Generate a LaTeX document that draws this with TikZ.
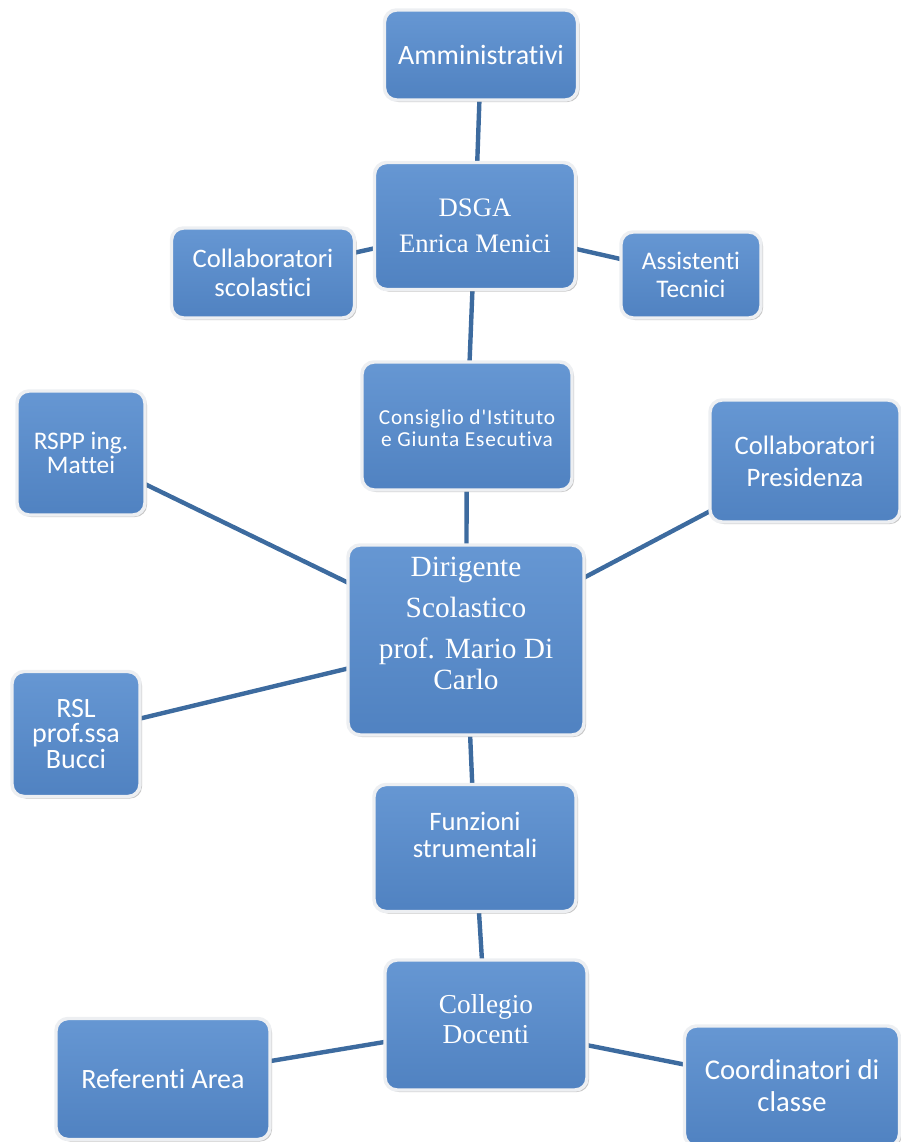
\documentclass[tikz,border=0pt]{standalone}
\usepackage{fontspec}
\setmainfont{Liberation Serif}
\newfontfamily\calfont{Carlito}[Ligatures=NoCommon]
\usetikzlibrary{shadows,backgrounds}
\definecolor{boxtop}{HTML}{6697D3}
\definecolor{boxbot}{HTML}{5082C1}
\definecolor{linkc}{HTML}{3D6B9F}
\definecolor{rimc}{HTML}{EDEFF2}
\newcommand\calr[2]{\calfont\fontsize{#1}{#2}\selectfont}
\newcommand\serr[2]{\rmfamily\fontsize{#1}{#2}\selectfont}
\tikzset{
  orgbox/.style={rectangle, rounded corners=9pt, top color=boxtop, bottom color=boxbot,
    draw=rimc, line width=2.6pt,
    drop shadow={opacity=0.45, shadow xshift=1.5pt, shadow yshift=-1.5pt},
    text=white, align=center, inner sep=2pt},
  sz/.style 2 args={minimum width=#1*0.75pt, minimum height=#2*0.75pt},
  cal/.style 2 args={font=\calr{#1}{#2}},
  ser/.style 2 args={font=\serr{#1}{#2}},
  boxtext/.style={text=white, align=center, inner sep=0pt},
  link/.style={draw=linkc, line width=3.3pt},
}
\begin{document}
\begin{tikzpicture}[x=0.75pt,y=-0.75pt]
\useasboundingbox (0,0) rectangle (900,1142);

\node[orgbox, sz={193}{90}, cal={21}{24}] (amm) at (481,55) {Amministrativi};
\node[orgbox, sz={201}{127}, ser={20}{27}] (dsga) at (475,226) {DSGA\\Enrica Menici};
\node[orgbox, sz={183}{90}, cal={20}{21.5}] (colsc) at (263,273) {Collaboratori\\scolastici};
\node[orgbox, sz={140}{86}, cal={19}{21.5}] (assist) at (691,275) {Assistenti\\Tecnici};
\node[orgbox, sz={210}{128}] (consiglio) at (467,426) {};
\node[boxtext, anchor=base, font={\calr{16}{16.5}\addfontfeature{LetterSpace=4}}] (constxt) at (467,446) {Consiglio d'Istituto\\e Giunta Esecutiva};
\node[orgbox, sz={128}{124}, cal={19}{18}] (rspp) at (81,453) {RSPP ing.\\Mattei};
\node[orgbox, sz={190}{122}, cal={20}{24}] (collpres) at (805,461) {Collaboratori\\Presidenza};
\node[orgbox, sz={236}{190}] (dir) at (466,640) {};
\node[boxtext, anchor=base, ser={22}{26.4}] (dirtxt) at (466,689) {Dirigente\\[4.3pt]Scolastico\\[4.3pt]prof. Mario Di\\[-3.2pt]Carlo};
\node[orgbox, sz={128}{125}, cal={21}{19}] (rsl) at (76,734) {RSL\\prof.ssa\\Bucci};
\node[orgbox, sz={202}{127}] (fun) at (475,848) {};
\node[boxtext, anchor=base, cal={20}{20}] (funtxt) at (475,857) {Funzioni\\strumentali};
\node[orgbox, sz={202}{130}] (coll) at (486,1025) {};
\node[boxtext, anchor=base, ser={20.5}{22.5}] (colltxt) at (486,1043) {Collegio\\Docenti};
\node[orgbox, sz={214}{121}, cal={21}{22}] (ref) at (163,1079) {Referenti Area};
\node[orgbox, sz={215}{120}, cal={21.5}{24}] (coord) at (792,1086) {Coordinatori di\\classe};

\begin{pgfonlayer}{background}
\draw[link] (amm.center) -- (dsga.center);
\draw[link] (dsga.center) -- (colsc.center);
\draw[link] (dsga.center) -- (assist.center);
\draw[link] (dsga.center) -- (consiglio.center);
\draw[link] (consiglio.center) -- (dir.center);
\draw[link] (rspp.center) -- (dir.center);
\draw[link] (collpres.center) -- (dir.center);
\draw[link] (rsl.center) -- (dir.center);
\draw[link] (dir.center) -- (fun.center);
\draw[link] (fun.center) -- (coll.center);
\draw[link] (coll.center) -- (ref.center);
\draw[link] (coll.center) -- (coord.center);
\end{pgfonlayer}
\end{tikzpicture}
\end{document}
